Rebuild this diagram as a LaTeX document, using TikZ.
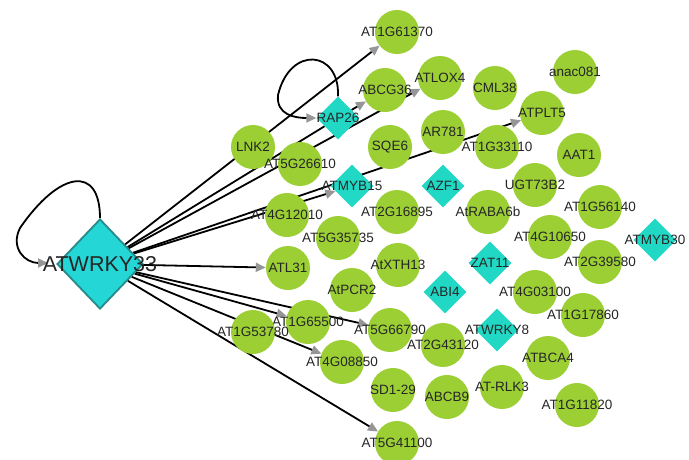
\documentclass[tikz,border=0pt]{standalone}
\usepackage{fontspec}
\setmainfont{Liberation Sans}
\usetikzlibrary{arrows.meta, shapes.geometric, backgrounds}
\definecolor{geneGreen}{RGB}{155,207,52}
\definecolor{tfCyan}{RGB}{32,216,196}
\definecolor{hubCyan}{RGB}{36,214,214}
\definecolor{hubEdge}{RGB}{40,138,138}
\definecolor{labelGray}{RGB}{38,38,38}
\definecolor{tipGray}{RGB}{150,150,150}

\tikzset{
  gene/.style={circle, fill=geneGreen, minimum size=44pt, inner sep=0pt},
  tf/.style={diamond, fill=tfCyan, minimum size=43pt, inner sep=0pt},
  hub/.style={diamond, fill=hubCyan, draw=hubEdge, line width=1.8pt, minimum width=86pt, minimum height=90pt, inner sep=0pt},
  every label/.style={font=\fontsize{13.5}{14}\selectfont, text=labelGray, inner sep=0pt},
  link/.style={line width=1.8pt, black},
  dirlink/.style={link, -{Triangle[length=10pt, width=9pt, color=tipGray]}}
}

\begin{document}
\begin{tikzpicture}[x=1pt, y=-1pt]
\useasboundingbox (0,0) rectangle (689,459);
\clip (0,0) rectangle (689,459);

% Hub
\node[hub, label={[font=\fontsize{21.5}{22}\selectfont]center:ATWRKY33}] (wrky33) at (100,264) {};

% Target genes (circles)
\foreach \nm/\x/\y in {AT1G61370/397/32, ABCG36/385/90, ATLOX4/440/78, CML38/495/88,
    anac081/575/72, ATPLT5/542/113, AR781/443/132, SQE6/390/147, AT1G33110/497/147,
    AAT1/579/155, LNK2/253/147, AT5G26610/300/164, UGT73B2/535/185, AT2G16895/397/212,
    AtRABA6b/488/212, AT1G56140/600/207, AT4G12010/287/215, AT5G35735/338/238,
    AT4G10650/550/237, AT2G39580/600/262, ATL31/288/268, AtXTH13/398/265,
    AtPCR2/352/290, AT4G03100/535/292, AT1G17860/583/315, AT1G65500/308/322,
    AT1G53780/253/332, AT5G66790/390/330, AT2G43120/443/345, AT4G08850/342/362,
    ATBCA4/548/358, SD1-29/393/390, ABCB9/447/397, AT-RLK3/502/387,
    AT1G11820/577/405, AT5G41100/397/443} {
    \node[gene, label={center:\nm}] (\nm) at (\x,\y) {};
}

% Transcription factors (diamonds)
\foreach \nm/\x/\y in {RAP26/338/118, ATMYB15/352/186, AZF1/443/186, ZAT11/490/263,
    ABI4/445/292, ATWRKY8/497/330, ATMYB30/655/240} {
    \node[tf, label={center:\nm}] (\nm) at (\x,\y) {};
}

\coordinate (wrkyin) at (48,263);

% Edges under the nodes
\begin{scope}[on background layer]
\fill[white] (0,0) rectangle (689,459);
\foreach \tgt in {AT1G61370, ATLOX4, ATMYB15, ATPLT5, ATL31, AT1G65500, AT5G66790, AT4G08850, AT5G41100} {
    \draw[dirlink] (wrky33) -- (\tgt);
}
\draw[link] (wrky33) -- (RAP26);
\draw[dirlink] (RAP26) -- (ABCG36);
% self loops
\draw[dirlink] (wrky33.north) .. controls (100,165) and (60,170) .. (20,228)
    .. controls (10,248) and (25,263) .. (wrkyin);
\draw[dirlink] (RAP26.north) .. controls (340,50) and (290,45) .. (278,95)
    .. controls (276,115) and (295,118) .. (RAP26.west);
\end{scope}

\end{tikzpicture}
\end{document}
